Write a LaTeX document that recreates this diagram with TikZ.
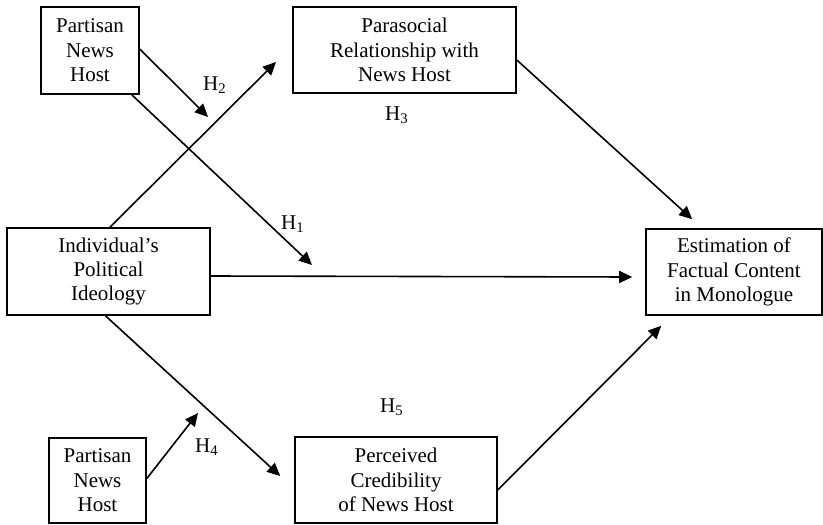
\documentclass[tikz,border=0pt]{standalone}
\usepackage{fontspec}
\setmainfont{Liberation Serif}
\usetikzlibrary{arrows.meta}
\tikzset{boxnode/.style={rectangle, draw=black, thick, align=center, inner sep=2pt, font=\fontsize{10.5}{12.2}\selectfont},
         hlabel/.style={inner sep=0pt, font=\fontsize{10.5}{12.2}\selectfont},
         hyparrow/.style={thick, -{Triangle[length=6.5pt,width=6pt]}}}

\begin{document}
\begin{tikzpicture}[x=0.5pt, y=-0.5pt]
\useasboundingbox (0,0) rectangle (823,524);
\node [boxnode, minimum width=49pt, minimum height=43.5pt] (host1) at (90,50.5) {Partisan\\News\\Host};
\node [boxnode, minimum width=111.5pt, minimum height=43pt] (para) at (404.5,50) {Parasocial\\Relationship with\\News Host};
\node [boxnode, minimum width=101.5pt, minimum height=43.5pt] (ideo) at (108.5,271.5) {Individual's\\Political\\Ideology};
\node [boxnode, minimum width=88pt, minimum height=43pt] (est) at (734,272) {Estimation of\\Factual Content\\in Monologue};
\node [boxnode, minimum width=48.5pt, minimum height=42.5pt] (host2) at (97.5,480.5) {Partisan\\News\\Host};
\node [boxnode, minimum width=101pt, minimum height=43pt] (cred) at (396,480) {Perceived\\Credibility\\of News Host};
\node [hlabel] (h1) at (293,224) {H\textsubscript{1}};
\node [hlabel] (h2) at (215,85) {H\textsubscript{2}};
\node [hlabel] (h3) at (397,115) {H\textsubscript{3}};
\node [hlabel] (h4) at (207,447) {H\textsubscript{4}};
\node [hlabel] (h5) at (392,407) {H\textsubscript{5}};
\coordinate (h1tip) at (312,265);
\coordinate (h2tip) at (208,117);
\coordinate (paratip) at (276,62);
\coordinate (h4tip) at (198,413);
\draw[hyparrow] ([yshift=0.75pt]host1.east) -- (h2tip);
\draw[hyparrow] ([xshift=-4pt]host1.south east) -- (h1tip);
\draw[hyparrow] ([xshift=0.75pt]ideo.north) -- (paratip);
\draw[hyparrow] ([yshift=-2.25pt]ideo.east) -- ([xshift=-6.5pt,yshift=-2.5pt]est.west);
\draw[hyparrow] ([yshift=-5pt]para.east) -- ([xshift=23.5pt,yshift=4.5pt]est.north west);
\draw[hyparrow] ([xshift=-1.5pt]ideo.south) -- ([xshift=-7pt,yshift=2pt]cred.west);
\draw[hyparrow] ([yshift=1pt]host2.east) -- (h4tip);
\draw[hyparrow] ([yshift=-5pt]cred.east) -- ([xshift=8pt,yshift=-5pt]est.south west);
\end{tikzpicture}
\end{document}
